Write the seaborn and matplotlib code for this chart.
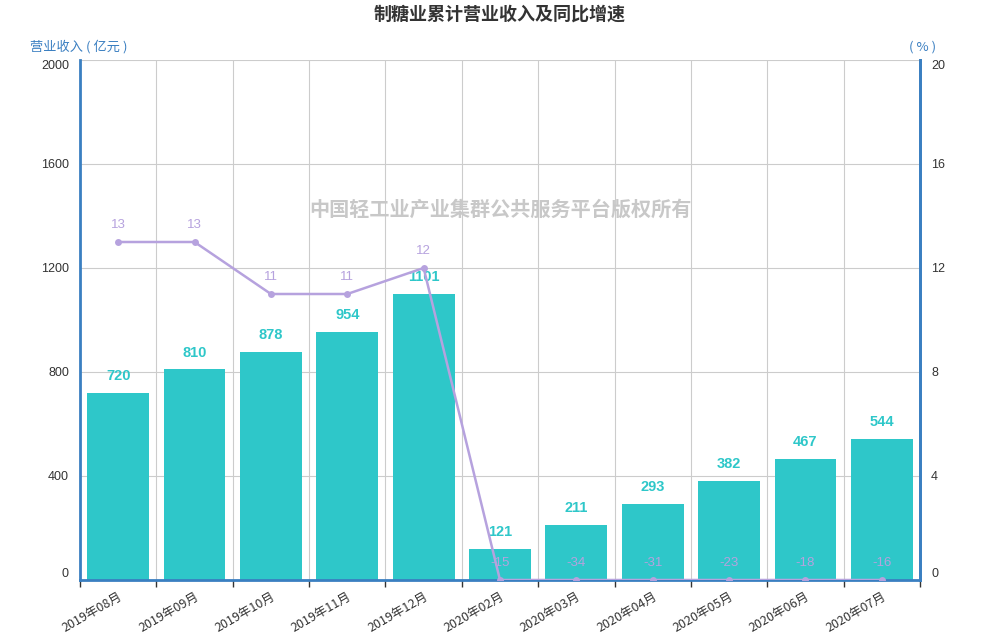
import matplotlib
matplotlib.use("Agg")
import matplotlib.pyplot as plt
import numpy as np
import pandas as pd
import seaborn as sns

# data
months = ["2019年08月", "2019年09月", "2019年10月", "2019年11月", "2019年12月",
          "2020年02月", "2020年03月", "2020年04月", "2020年05月", "2020年06月", "2020年07月"]
revenue = [720, 810, 878, 954, 1101, 121, 211, 293, 382, 467, 544]
growth = [13, 13, 11, 11, 12, -15, -34, -31, -23, -18, -16]

BAR_C = "#2ec7c9"
LINE_C = "#b6a2de"
AXIS_C = "#3a7fc1"
TEXT_C = "#333333"
NUM_FONT = ["Liberation Sans", "DejaVu Sans"]

sns.set_theme(style="white")
plt.rcParams["font.family"] = ["Noto Sans CJK SC", "DejaVu Sans"]

df = pd.DataFrame({"month": months, "revenue": revenue, "growth": growth})

fig, ax = plt.subplots(figsize=(10, 6.4), dpi=100)
fig.subplots_adjust(left=0.08, right=0.92, top=1 - 60 / 640, bottom=1 - 580 / 640)

sns.barplot(data=df, x="month", y="revenue", color=BAR_C, saturation=1, width=0.81,
            linewidth=0, ax=ax, zorder=2)
ax.set_ylim(0, 2000)
ax.set_xlim(-0.5, len(months) - 0.5)
ax.set_yticks(np.arange(0, 2001, 400))
ax.set_xlabel("")
ax.set_ylabel("")

# grid: horizontal at ticks, vertical at category boundaries
ax.set_xticks(np.arange(len(months)))
ax.set_xticks(np.arange(-0.5, len(months), 1), minor=True)
ax.grid(axis="y", color="#cccccc", lw=0.8, zorder=0)
ax.grid(axis="x", which="minor", color="#cccccc", lw=0.8, zorder=0)
ax.grid(axis="x", which="major", visible=False)
ax.set_axisbelow(True)
ax.tick_params(axis="x", which="major", length=0, pad=7)
ax.tick_params(axis="x", which="minor", length=5, width=1, color=TEXT_C, bottom=True)
ax.tick_params(axis="y", length=0, pad=8, labelcolor=TEXT_C)
ax.set_xticklabels(months, rotation=30, ha="right", rotation_mode="anchor", fontsize=9, color=TEXT_C)
ylabels = ax.get_yticklabels()
for t in ylabels:
    t.set_fontfamily(NUM_FONT)
    t.set_fontsize(9)
ylabels[0].set_va("bottom")
ylabels[-1].set_va("top")

for sp in ["top"]:
    ax.spines[sp].set_visible(False)
for sp in ["left", "bottom", "right"]:
    ax.spines[sp].set_color(AXIS_C)
    ax.spines[sp].set_linewidth(2)

for i, v in enumerate(revenue):
    ax.annotate(f"{v}", (i, v), xytext=(0, 7), textcoords="offset points",
                ha="center", va="bottom", color=BAR_C, fontsize=10.5, fontweight="bold",
                family=NUM_FONT)

# growth line on the right axis (axis floor is 0, negatives sit on it)
ax2 = ax.twinx()
shown = np.clip(growth, 0, None)
sns.lineplot(x=np.arange(len(months)), y=shown, ax=ax2, color=LINE_C, lw=1.8,
             marker="o", markersize=5, markeredgewidth=0, zorder=3)
ax2.set_ylim(0, 20)
ax2.set_yticks(np.arange(0, 21, 4))
ax2.tick_params(axis="y", length=0, pad=8, labelcolor=TEXT_C)
rlabels = ax2.get_yticklabels()
for t in rlabels:
    t.set_fontfamily(NUM_FONT)
    t.set_fontsize(9)
rlabels[0].set_va("bottom")
rlabels[-1].set_va("top")
ax2.grid(False)
for sp in ["top", "left", "bottom"]:
    ax2.spines[sp].set_visible(False)
ax2.spines["right"].set_color(AXIS_C)
ax2.spines["right"].set_linewidth(2)
for i, (g, s) in enumerate(zip(growth, shown)):
    ax2.annotate(f"{g}", (i, s), xytext=(0, 8), textcoords="offset points",
                 ha="center", va="bottom", color=LINE_C, fontsize=9.5, family=NUM_FONT)

fig.text(0.5, 1 - 14 / 640, "制糖业累计营业收入及同比增速", ha="center", va="center",
         fontsize=13, fontweight="bold", color=TEXT_C)
fig.text(0.03, 1 - 47 / 640, "营业收入 ( 亿元 )", ha="left", va="center", fontsize=9.5, color=AXIS_C)
fig.text(0.936, 1 - 47 / 640, "( % )", ha="right", va="center", fontsize=9.5, color=AXIS_C)
fig.text(0.5, 1 - 209 / 640, "中国轻工业产业集群公共服务平台版权所有", ha="center", va="center",
         fontsize=14.5, fontweight="bold", color="#c8c8c8", zorder=10)

fig.savefig("out.png", dpi=100)
